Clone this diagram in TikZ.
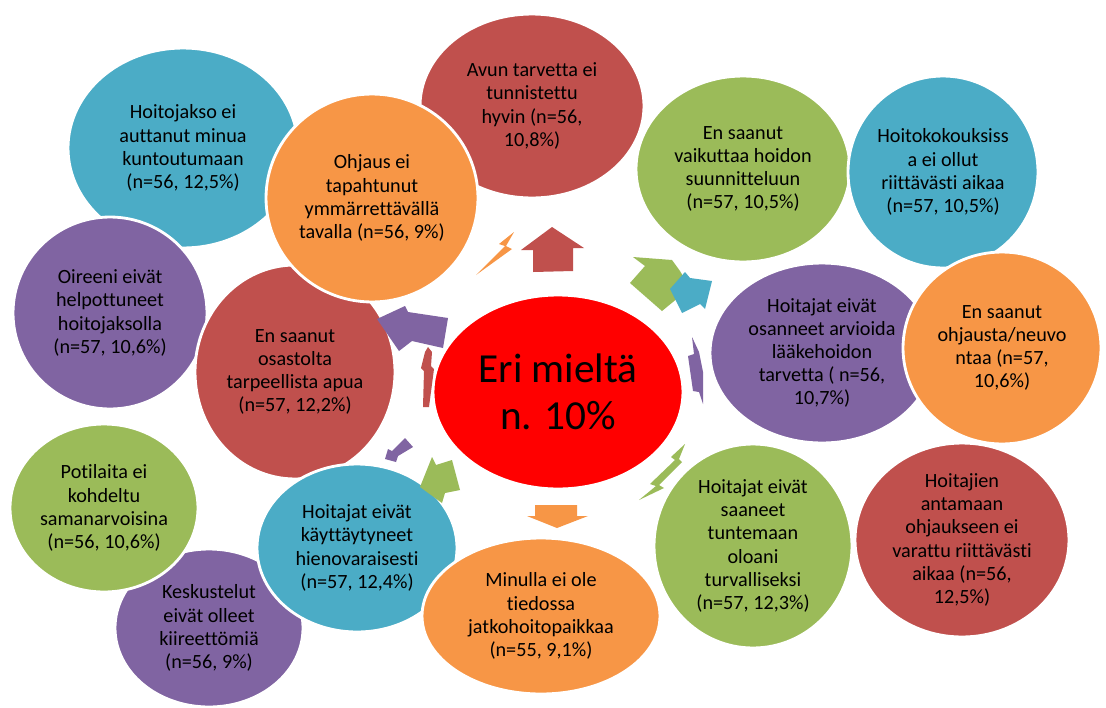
\documentclass[tikz,border=0pt]{standalone}
\usepackage{fontspec}
\setmainfont{Carlito}[Ligatures=CommonOff]
\usetikzlibrary{shapes.geometric}

\definecolor{redbox}{HTML}{C0504D}
\definecolor{greenbox}{HTML}{9BBB59}
\definecolor{bluebox}{HTML}{4BACC6}
\definecolor{purplebox}{HTML}{8064A2}
\definecolor{orangebox}{HTML}{F79646}

\begin{document}
\begin{tikzpicture}[x=0.02cm, y=-0.02cm,
  bubble/.style={ellipse, draw=white, line width=1.6pt, inner sep=0pt, align=center,
    font=\fontsize{11.5}{13.2}\selectfont}]
\useasboundingbox (0,0) rectangle (1106,707);
\fill [white] (0,0) rectangle (1106,707);

\node [bubble, fill=bluebox, minimum width=4.6cm, minimum height=4cm] (jakso) at (183,148) {Hoitojakso ei\\auttanut minua\\kuntoutumaan\\(n=56, 12,5\%)};
\node [bubble, fill=purplebox, minimum width=3.88cm, minimum height=3.84cm] (oireet) at (110,313) {Oireeni eivät\\helpottuneet\\hoitojaksolla\\(n=57, 10,6\%)};
\node [bubble, fill=redbox, minimum width=4.48cm, minimum height=3.68cm] (avun) at (532,106) {Avun tarvetta ei\\tunnistettu\\hyvin (n=56,\\10,8\%)};
\node [bubble, fill=redbox, minimum width=4cm, minimum height=4.28cm] (osasto) at (295,372) {En saanut\\osastolta\\tarpeellista apua\\(n=57, 12,2\%)};
\node [bubble, fill=orangebox, minimum width=4.24cm, minimum height=4.16cm] (ohjaus) at (372,198) {Ohjaus ei\\tapahtunut\\ymmärrettävällä\\tavalla (n=56, 9\%)};

\node [bubble, fill=greenbox, minimum width=4.28cm, minimum height=3.72cm] (vaikutus) at (743,169) {En saanut\\vaikuttaa hoidon\\suunnitteluun\\(n=57, 10,5\%)};
\node [bubble, fill=bluebox, minimum width=3.8cm, minimum height=3.84cm] (kokous) at (943,172) {Hoitokokouksiss\\a ei ollut\\riittävästi aikaa\\(n=57, 10,5\%)};
\node [bubble, fill=purplebox, minimum width=4.48cm, minimum height=3.6cm] (laake) at (822,353) {Hoitajat eivät\\osanneet arvioida\\lääkehoidon\\tarvetta ( n=56,\\10,7\%)};
\node [bubble, fill=orangebox, minimum width=3.96cm, minimum height=3.84cm] (neuvonta) at (1002,348) {En saanut\\ohjausta/neuvo\\ntaa (n=57,\\10,6\%)};
\node [bubble, fill=redbox, minimum width=4.28cm, minimum height=3.88cm] (ohjausaika) at (962,540) {Hoitajien\\antamaan\\ohjaukseen ei\\varattu riittävästi\\aikaa (n=56,\\12,5\%)};
\node [bubble, fill=greenbox, minimum width=3.96cm, minimum height=4.08cm] (turva) at (753,546) {Hoitajat eivät\\saaneet\\tuntemaan\\oloani\\turvalliseksi\\(n=57, 12,3\%)};

\node [bubble, fill=purplebox, minimum width=3.76cm, minimum height=3.16cm] (keskustelu) at (209,628) {Keskustelut\\eivät olleet\\kiireettömiä\\(n=56, 9\%)};
\node [bubble, fill=greenbox, minimum width=3.76cm, minimum height=3.36cm] (potilaat) at (104,508) {Potilaita ei\\kohdeltu\\samanarvoisina\\(n=56, 10,6\%)};
\node [bubble, fill=bluebox, minimum width=4cm, minimum height=3.36cm] (hienous) at (357,548) {Hoitajat eivät\\käyttäytyneet\\hienovaraisesti\\(n=57, 12,4\%)};
\node [bubble, fill=orangebox, minimum width=4.76cm, minimum height=3.12cm] (jatko) at (541,616) {Minulla ei ole\\tiedossa\\jatkohoitopaikkaa\\(n=55, 9,1\%)};

\node [bubble, fill=red, minimum width=5cm, minimum height=3.88cm, font=\fontsize{23.5}{26.7}\selectfont] (keskus) at (558,392) {Eri mieltä\\n. 10\%};

\fill [redbox] (552,227) -- (584,248) -- (573,248) -- (573,271) -- (533,272) -- (533,250) -- (521,250) -- cycle;
\fill [greenbox] (633,257) -- (645,266) -- (630,283) -- (662,311) -- (690,288) -- (680,271) -- (672,260) -- cycle;
\fill [bluebox] (670,289) -- (685,272) -- (690,278) -- (712,281) -- (705,309) -- (700,304) -- (682,313) -- cycle;
\fill [purplebox] (692,337) -- (699,352) -- (703,372) -- (703,404) -- (699,392) -- (693,391) -- (688,356) -- (694,354) -- cycle;
\fill [greenbox] (685,444) -- (671,457) -- (675,460) -- (650,484) -- (656,486) -- (639,500) -- (664,488) -- (659,485) -- (682,462) -- (679,459) -- cycle;
\fill [orangebox] (535,505) -- (577,505) -- (577,516) -- (588,516) -- (557,528) -- (527,516) -- (535,516) -- cycle;
\fill [greenbox] (432,457) -- (436,465) -- (452,460) -- (460,490) -- (445,493) -- (442,503) -- (420,487) -- cycle;
\fill [purplebox] (405,438) -- (413,447) -- (398,456) -- (396,462) -- (385,459) -- (388,449) -- (392,451) -- cycle;
\fill [redbox] (428,347) -- (432,352) -- (431,366) -- (434,369) -- (429,407) -- (423,407) -- (424,371) -- (421,368) -- (425,352) -- cycle;
\fill [purplebox] (377,319) -- (405,306) -- (408,312) -- (448,318) -- (443,348) -- (412,341) -- (399,351) -- cycle;
\fill [orangebox] (514,232) -- (499,244) -- (505,246) -- (476,275) -- (512,249) -- (506,246) -- cycle;

\end{tikzpicture}
\end{document}
